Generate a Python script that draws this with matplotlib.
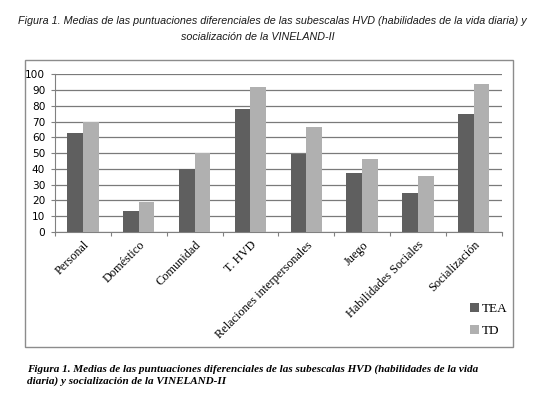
import numpy as np
import matplotlib.pyplot as plt
from matplotlib.patches import Rectangle

categories = ['Personal', 'Doméstico', 'Comunidad', 'T. HVD',
              'Relaciones interpersonales', 'Juego', 'Habilidades Sociales',
              'Socialización']
tea = [62.5, 13.3, 39.7, 77.7, 49.2, 37.1, 24.5, 75.1]
td = [70, 19.2, 49.8, 92, 66.3, 46.6, 35.6, 93.7]
series_names = ['TEA', 'TD']
yticks = list(range(0, 101, 10))

fig = plt.figure(figsize=(5.54, 3.99), dpi=100)
W, H = 554, 399

# outer chart frame
fig.patches.append(Rectangle((25 / W, 1 - 347 / H), (513 - 25) / W, (347 - 60) / H,
                             transform=fig.transFigure, fill=False,
                             edgecolor='#8c8c8c', linewidth=1.0))

ax = fig.add_axes([55 / W, 1 - 232 / H, (501.7 - 55) / W, (232 - 74.3) / H])

x = np.arange(len(categories))
w = 0.28
ax.bar(x - w / 2, tea, w, color='#5f5f5f', label=series_names[0], zorder=3)
ax.bar(x + w / 2, td, w, color='#b0b0b0', label=series_names[1], zorder=3)

ax.set_xlim(-0.5, len(categories) - 0.5)
ax.set_ylim(0, 100)
ax.set_yticks(yticks)
ax.tick_params(axis='y', labelsize=7.6, length=3, color='#808080', pad=4)
ax.yaxis.grid(True, color='#7a7a7a', linewidth=0.9, zorder=0)

ax.set_xticks(np.arange(len(categories) + 1) - 0.5, minor=False)
ax.set_xticklabels([])
ax.set_xticks(x, minor=True)
ax.set_xticklabels(categories, minor=True, rotation=45, ha='right',
                   rotation_mode='anchor', family='Liberation Serif', fontsize=8.8)
ax.tick_params(axis='x', which='minor', length=0, pad=5)
ax.tick_params(axis='x', which='major', length=3, color='#808080')

for s in ['top', 'right']:
    ax.spines[s].set_visible(False)
ax.spines['left'].set_color('#808080')
ax.spines['bottom'].set_color('#808080')

leg = ax.legend(loc='upper left', bbox_to_anchor=(458 / W, 1 - 291 / H),
                bbox_transform=fig.transFigure, frameon=False,
                prop={'family': 'Liberation Serif', 'size': 9.5},
                handlelength=0.7, handleheight=0.7, handletextpad=0.2,
                labelspacing=0.75)

fig.text(272 / W, 1 - 21 / H,
         'Figura 1. Medias de las puntuaciones diferenciales de las subescalas HVD '
         '(habilidades de la vida diaria) y', ha='center', va='center',
         family='Liberation Sans', style='italic', fontsize=7.75, color='#1a1a1a')
fig.text(258 / W, 1 - 37 / H, 'socialización de la VINELAND-II',
         ha='center', va='center', family='Liberation Sans', style='italic',
         fontsize=7.75, color='#1a1a1a')

fig.text(27 / W, 1 - 369 / H,
         'Figura 1. Medias de las puntuaciones diferenciales de las subescalas HVD '
         '(habilidades de la vida', ha='left', va='center',
         family='Liberation Serif', style='italic', weight='bold', fontsize=8)
fig.text(27 / W, 1 - 381 / H, 'diaria) y socialización de la VINELAND-II',
         ha='left', va='center', family='Liberation Serif', style='italic',
         weight='bold', fontsize=8)

plt.savefig('out.png', dpi=100)
